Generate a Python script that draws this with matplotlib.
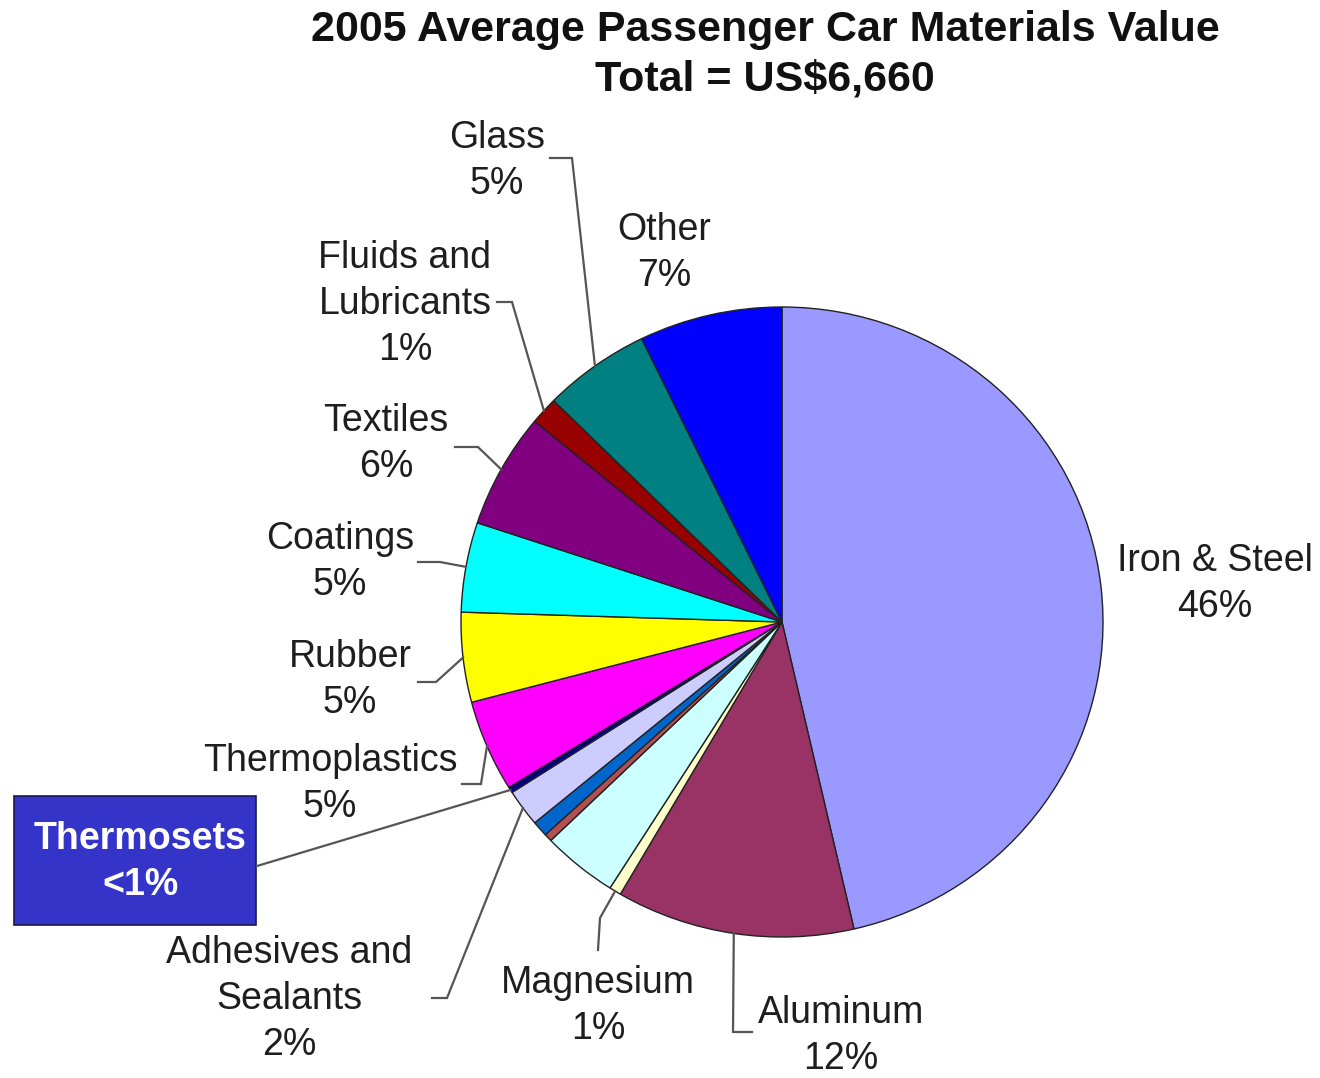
import matplotlib

matplotlib.use("Agg")
import matplotlib.pyplot as plt
import numpy as np
from matplotlib.patches import Rectangle

plt.rcParams["font.family"] = ["Liberation Sans", "DejaVu Sans"]

# material shares (%), clockwise from 12 o'clock
materials = [
    "Iron & Steel", "Aluminum", "Magnesium", "Other plastics", "Copper",
    "Zinc", "Adhesives and Sealants", "Thermosets", "Thermoplastics",
    "Rubber", "Coatings", "Textiles", "Fluids and Lubricants", "Glass", "Other",
]
shares = [46.4, 12.0, 0.6, 3.8, 0.4, 0.8, 1.9, 0.3, 4.7, 4.6, 4.6, 5.9, 1.4, 5.4, 7.2]
colors = [
    "#9999FF", "#993366", "#FFFFCC", "#CCFFFF", "#B05050", "#0066CC", "#CCCCFF",
    "#000080", "#FF00FF", "#FFFF00", "#00FFFF", "#800080", "#990000", "#008080",
    "#0000FF",
]
label_text = {
    "Iron & Steel": "Iron & Steel",
    "Aluminum": "Aluminum",
    "Magnesium": "Magnesium",
    "Adhesives and Sealants": "Adhesives and\nSealants",
    "Thermoplastics": "Thermoplastics",
    "Rubber": "Rubber",
    "Coatings": "Coatings",
    "Textiles": "Textiles",
    "Fluids and Lubricants": "Fluids and\nLubricants",
    "Glass": "Glass",
    "Other": "Other",
}
title = "2005 Average Passenger Car Materials Value\nTotal = US$6,660"

W, H = 1320, 1078
R = 321.0          # horizontal radius in pixels
SY = R / 315.0     # vertical squeeze of the pie


def px(x, y):
    """pixel position (origin top-left) -> data coordinates"""
    return x, (H - y) * SY


fig = plt.figure(figsize=(W / 100, H / 100), dpi=100)
ax = fig.add_axes([0, 0, 1, 1])

center = px(782, 622)
wedges, _ = ax.pie(
    shares, colors=colors, startangle=90, counterclock=False,
    radius=R, center=center,
    wedgeprops=dict(edgecolor="#222222", linewidth=1.0),
)
ax.set_aspect("auto")
ax.set_xlim(0, W)
ax.set_ylim(0, H * SY)
ax.axis("off")


def rim(name, frac=0.5):
    w = wedges[materials.index(name)]
    ang = np.deg2rad(w.theta1 + frac * (w.theta2 - w.theta1))
    return center[0] + R * np.cos(ang), center[1] + R * np.sin(ang)


text_kw = dict(fontsize=27, color="#1e1e1e", ha="center", va="center",
               linespacing=1.34)
line_kw = dict(color="#555555", linewidth=1.6, solid_joinstyle="miter")

# label centres and leader elbows, in pixels
layout = {
    "Iron & Steel": ((1215, 584), []),
    "Other": ((664, 253), []),
    "Glass": ((497, 161), [(550, 158), (572, 158)]),
    "Fluids and Lubricants": ((405, 304), [(497, 302), (512, 302)]),
    "Textiles": ((386, 444), [(455, 447), (478, 447)]),
    "Coatings": ((340, 562), [(418, 562), (440, 562)]),
    "Rubber": ((350, 680), [(418, 682), (436, 682)]),
    "Thermoplastics": ((330, 784), [(462, 784), (481, 784)]),
    "Adhesives and Sealants": ((289, 999), [(432, 998), (447, 998)]),
    "Magnesium": ((598, 1006), [(598, 950), (600, 918)]),
    "Aluminum": ((841, 1036), [(752, 1032), (733, 1032)]),
}

for name, (pos, elbow) in layout.items():
    share = shares[materials.index(name)]
    ax.text(*px(*pos), f"{label_text[name]}\n{round(share)}%", **text_kw)
    if elbow:
        pts = [px(*p) for p in elbow] + [rim(name)]
        xs, ys = zip(*pts)
        ax.plot(xs, ys, **line_kw)

# highlighted thermosets call-out
x0, y0 = px(14, 925)
ax.add_patch(Rectangle((x0, y0), 242, 129 * SY, facecolor="#3434C8",
                       edgecolor="#1a1a50", linewidth=1.2))
thermosets = shares[materials.index("Thermosets")]
ax.text(*px(140, 862), f"Thermosets\n<{int(np.ceil(thermosets))}%",
        fontsize=27, fontweight="bold", color="white", ha="center",
        va="center", linespacing=1.38)
tx, ty = rim("Thermosets")
sx, sy = px(257, 866)
ax.plot([sx, tx], [sy, ty], **line_kw)

ax.text(*px(765, 55), title, fontsize=31, fontweight="bold", color="#111111",
        ha="center", va="center", linespacing=1.32)

fig.savefig("out.png", dpi=100, facecolor="white")
